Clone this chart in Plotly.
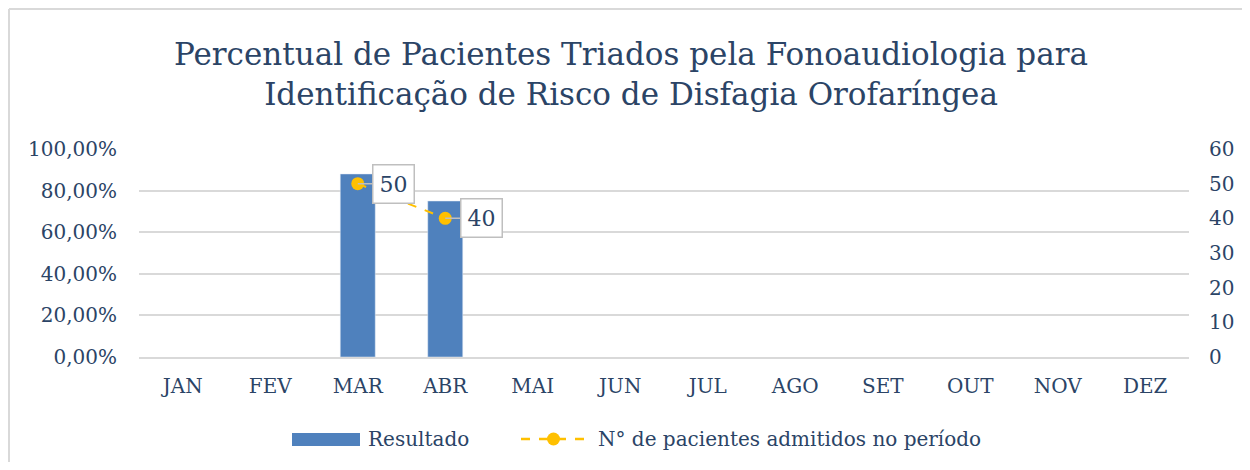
import plotly.graph_objects as go

months = ["JAN", "FEV", "MAR", "ABR", "MAI", "JUN", "JUL", "AGO", "SET", "OUT", "NOV", "DEZ"]
resultado = [None, None, 0.88, 0.75, None, None, None, None, None, None, None, None]
admitidos = [None, None, 50, 40, None, None, None, None, None, None, None, None]
series_names = ["Resultado", "N° de pacientes admitidos no período"]

W, H = 1234, 454  # page body margin of 8px on each side keeps it within 1250x470
OFF = 8
L, T = 131, 141
R, B = W - 1181, H - 349
FONT = "DejaVu Serif"
TXT = "#2B4466"
BLUE = "#4F81BD"
GOLD = "#FFC000"
GRID = "#D9D9D9"


def sx(x):
    return (x - OFF - L) / (W - L - R)


def sy(y):
    return (H - B - (y - OFF)) / (H - T - B)


fig = go.Figure()
fig.add_trace(go.Bar(x=months, y=resultado, name=series_names[0], marker_color=BLUE,
                     width=0.4, yaxis="y"))
fig.add_trace(go.Scatter(x=months, y=admitidos, name=series_names[1],
                         mode="lines+markers", yaxis="y2", cliponaxis=False,
                         line=dict(color=GOLD, width=2, dash="dash"),
                         marker=dict(color=GOLD, size=13, symbol="circle")))

for m, v in zip(months, admitidos):
    if v is not None:
        fig.add_annotation(x=m, y=v, yref="y2", text=str(v), showarrow=True,
                           ax=36, ay=0, arrowhead=0, arrowcolor="#BFBFBF", arrowwidth=1.5,
                           bgcolor="white", bordercolor="#BFBFBF", borderwidth=1.5,
                           borderpad=6, font=dict(family=FONT, size=22, color=TXT))

# outer chart border (top and left edges are the only visible ones)
fig.add_shape(type="line", xref="paper", yref="paper",
              x0=sx(9), x1=sx(1300), y0=sy(9), y1=sy(9),
              line=dict(color=GRID, width=2), layer="below")
fig.add_shape(type="line", xref="paper", yref="paper",
              x0=sx(9), x1=sx(9), y0=sy(9), y1=sy(520),
              line=dict(color=GRID, width=2), layer="below")

# manual legend (wide symbols as in the original)
ly = 439
fig.add_shape(type="rect", xref="paper", yref="paper",
              x0=sx(292), x1=sx(360), y0=sy(446), y1=sy(433),
              line=dict(width=0), fillcolor=BLUE)
fig.add_annotation(xref="paper", yref="paper", x=sx(366), y=sy(ly), xanchor="left",
                   yanchor="middle", text=series_names[0], showarrow=False,
                   font=dict(family=FONT, size=20, color=TXT))
fig.add_shape(type="line", xref="paper", yref="paper",
              x0=sx(521), x1=sx(587), y0=sy(ly), y1=sy(ly),
              line=dict(color=GOLD, width=2.5, dash="dash"))
fig.add_shape(type="circle", xref="paper", yref="paper",
              x0=sx(547), x1=sx(560), y0=sy(ly + 6.5), y1=sy(ly - 6.5),
              line=dict(width=0), fillcolor=GOLD)
fig.add_annotation(xref="paper", yref="paper", x=sx(596), y=sy(ly), xanchor="left",
                   yanchor="middle", text=series_names[1], showarrow=False,
                   font=dict(family=FONT, size=20, color=TXT))

fig.update_layout(
    width=W, height=H,
    margin=dict(l=L, r=R, t=T, b=B, autoexpand=False),
    paper_bgcolor="white", plot_bgcolor="white",
    separators=",.",
    font=dict(family=FONT, color=TXT, size=20),
    showlegend=False,
    title=dict(text="Percentual de Pacientes Triados pela Fonoaudiologia para<br>Identificação de Risco de Disfagia Orofaríngea",
               x=(631 - OFF) / W, xanchor="center", xref="container", y=1 - 57 / H,
               yanchor="top", yref="container",
               font=dict(family=FONT, size=31, color=TXT)),
    xaxis=dict(range=[-0.5, 11.5], showgrid=False, showline=True, linecolor=GRID, linewidth=1.5,
               ticks="outside", ticklen=10, tickcolor="rgba(0,0,0,0)", tickfont=dict(size=20),
               automargin=False, fixedrange=True),
    yaxis=dict(range=[0, 1], dtick=0.2, tickformat=".2%", showgrid=True, gridcolor=GRID,
               gridwidth=1.5, zeroline=False, ticks="outside", ticklen=17,
               tickcolor="rgba(0,0,0,0)", tickfont=dict(size=20), automargin=False),
    yaxis2=dict(range=[0, 60], dtick=10, overlaying="y", side="right", showgrid=False,
                zeroline=False, ticks="outside", ticklen=15, tickcolor="rgba(0,0,0,0)",
                tickfont=dict(size=20), automargin=False),
)

fig.write_html("out.html")
